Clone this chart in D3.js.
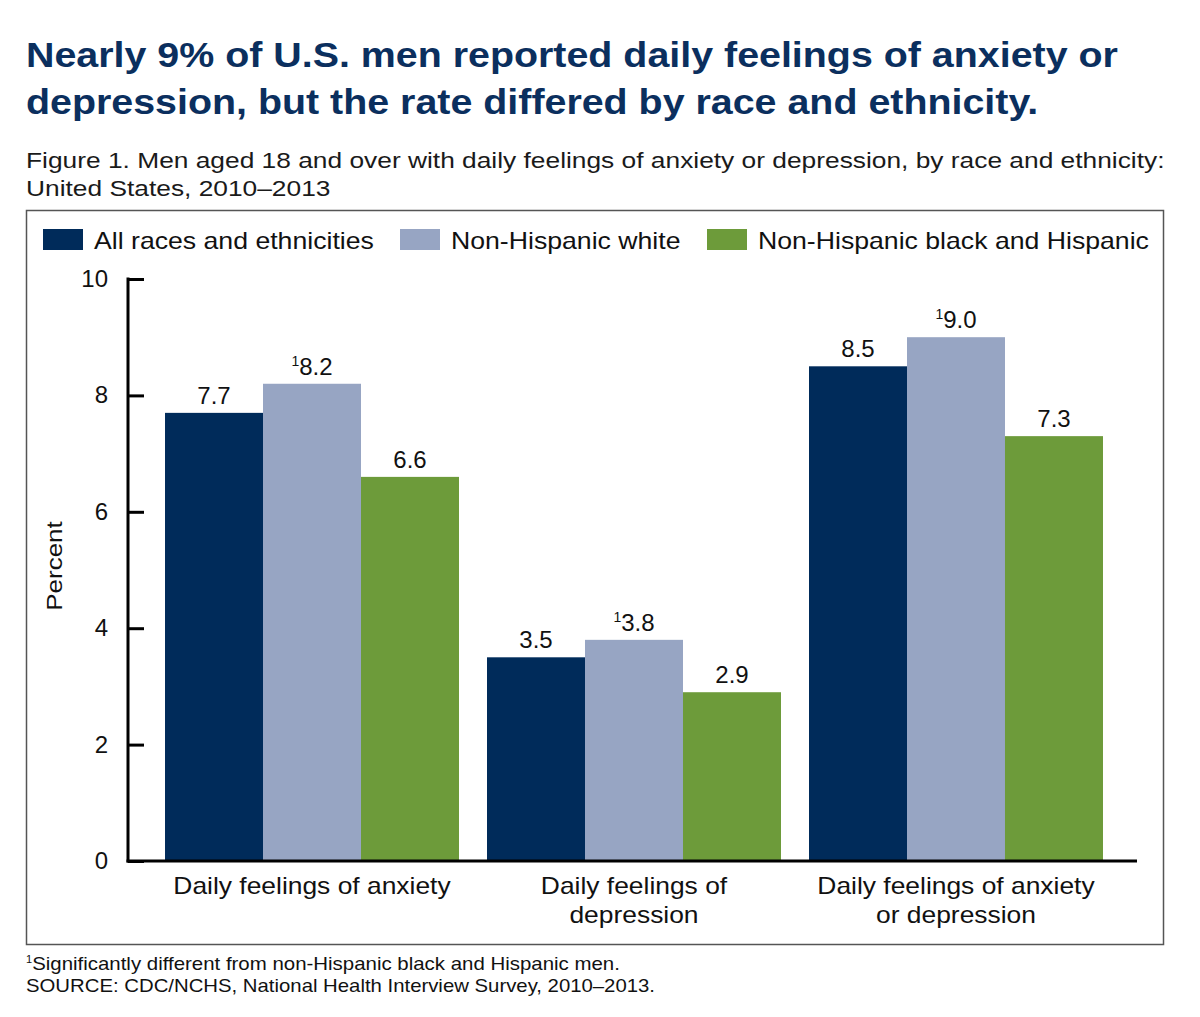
<!DOCTYPE html>
<html>
<head>
<meta charset="utf-8">
<script src="https://cdn.jsdelivr.net/npm/d3@7"></script>
<style>
  html, body { margin: 0; padding: 0; background: #fff; }
  svg { display: block; font-family: "Liberation Sans", Arial, Helvetica, sans-serif; }
</style>
</head>
<body>
<svg id="chart" width="1200" height="1017"></svg>
<script>
const titleLines = ["Nearly 9% of U.S. men reported daily feelings of anxiety or", "depression, but the rate differed by race and ethnicity."];
const subtitleLines = ["Figure 1. Men aged 18 and over with daily feelings of anxiety or depression, by race and ethnicity:", "United States, 2010\u20132013"];
const categories = ["Daily feelings of anxiety", "Daily feelings of depression", "Daily feelings of anxiety or depression"];
const categoryLines = [["Daily feelings of anxiety"], ["Daily feelings of", "depression"], ["Daily feelings of anxiety", "or depression"]];
const seriesNames = ["All races and ethnicities", "Non-Hispanic white", "Non-Hispanic black and Hispanic"];
const allRaces = [7.7, 3.5, 8.5];
const nhWhite = [8.2, 3.8, 9.0];
const nhBlackHispanic = [6.6, 2.9, 7.3];
const significant = [false, true, false]; // per series: footnote marker
const yTicks = [0, 2, 4, 6, 8, 10];
const footnotes = ["Significantly different from non-Hispanic black and Hispanic men.", "SOURCE: CDC/NCHS, National Health Interview Survey, 2010\u20132013."];
const colors = ["#002b5a", "#97a5c3", "#6d9b3a"];

const seriesValues = [allRaces, nhWhite, nhBlackHispanic];
const svg = d3.select("#chart");

// stretch text horizontally to a factor of its natural width
function stretch(sel, f) {
  sel.each(function() {
    const w = this.getComputedTextLength();
    d3.select(this).attr("textLength", w * f).attr("lengthAdjust", "spacingAndGlyphs");
  });
}

// Title
const tt = svg.append("g").selectAll("text").data(titleLines).join("text")
  .attr("x", 26).attr("y", (d, i) => 67 + i * 47)
  .attr("font-size", 35).attr("font-weight", "bold").attr("fill", "#0b2f5e")
  .text(d => d);
stretch(tt, 1.125);

// Subtitle
const st = svg.append("g").selectAll("text").data(subtitleLines).join("text")
  .attr("x", 26).attr("y", (d, i) => 168 + i * 28)
  .attr("font-size", 22.5).attr("fill", "#1a1a1a")
  .text(d => d);
stretch(st, 1.17);

// Box
svg.append("rect").attr("x", 26.5).attr("y", 210.5).attr("width", 1137).attr("height", 734)
  .attr("fill", "none").attr("stroke", "#555").attr("stroke-width", 1.5);

// Legend
const legendX = [43, 400, 707];
const lg = svg.append("g").selectAll("g").data(seriesNames).join("g")
  .attr("transform", (d, i) => `translate(${legendX[i]},229)`);
lg.append("rect").attr("width", 40).attr("height", 21).attr("fill", (d, i) => colors[i]);
const lt = lg.append("text").attr("x", 51).attr("y", 20).attr("font-size", 24).attr("fill", "#111").text(d => d);
stretch(lt, 1.11);

// Scales
const y = d3.scaleLinear().domain([0, 10]).range([861, 279]);
const x0 = d3.scaleBand().domain(categories).range([137, 1131]).paddingInner(0.087).paddingOuter(0.087);
const x1 = d3.scaleBand().domain(d3.range(3)).range([0, x0.bandwidth()]);

// Bars
const groups = svg.append("g").selectAll("g").data(categories).join("g")
  .attr("transform", d => `translate(${x0(d)},0)`);
groups.selectAll("rect").data((d, ci) => seriesValues.map((s, si) => ({si, v: s[ci]}))).join("rect")
  .attr("x", d => x1(d.si)).attr("width", x1.bandwidth())
  .attr("y", d => y(d.v)).attr("height", d => y(0) - y(d.v))
  .attr("fill", d => colors[d.si]);

// Value labels
const vl = groups.selectAll("text.val").data((d, ci) => seriesValues.map((s, si) => ({si, v: s[ci]}))).join("text")
  .attr("class", "val")
  .attr("x", d => x1(d.si) + x1.bandwidth() / 2)
  .attr("y", d => y(d.v) - 9)
  .attr("text-anchor", "middle").attr("font-size", 24).attr("fill", "#111");
vl.each(function(d) {
  const t = d3.select(this);
  if (significant[d.si]) {
    t.append("tspan").attr("font-size", 14).attr("dy", -9).text("1");
    t.append("tspan").attr("dy", 9).text(d.v.toFixed(1));
  } else {
    t.text(d.v.toFixed(1));
  }
});

// Y axis
const yAxis = d3.axisRight(y).tickValues(yTicks).tickSize(16).tickFormat("");
const ya = svg.append("g").attr("transform", "translate(128,0)").call(yAxis);
ya.select(".domain").remove();
ya.selectAll(".tick line").attr("stroke", "#000").attr("stroke-width", 3);
svg.append("line").attr("x1", 128).attr("x2", 128).attr("y1", y(10) - 1.5).attr("y2", y(0) + 1.5)
  .attr("stroke", "#000").attr("stroke-width", 3);
svg.append("g").selectAll("text").data(yTicks).join("text")
  .attr("x", 108).attr("y", d => y(d) + 8).attr("text-anchor", "end")
  .attr("font-size", 24).attr("fill", "#111").text(d => d);

// X axis baseline
svg.append("line").attr("x1", 126.5).attr("x2", 1137).attr("y1", y(0)).attr("y2", y(0))
  .attr("stroke", "#000").attr("stroke-width", 3);

// Category labels
svg.append("g").selectAll("text").data(categories).join("text")
  .attr("x", d => x0(d) + x0.bandwidth() / 2).attr("y", 894)
  .attr("text-anchor", "middle").attr("font-size", 24).attr("fill", "#111")
  .each(function(d, i) {
    d3.select(this).selectAll("tspan").data(categoryLines[i]).join("tspan")
      .attr("x", x0(d) + x0.bandwidth() / 2).attr("dy", (l, j) => j === 0 ? 0 : 29).text(l => l);
  });
svg.selectAll("text tspan").filter(function() { return this.parentNode.getAttribute("y") === "894"; })
  .each(function() {
    const w = this.getComputedTextLength();
    d3.select(this).attr("textLength", w * 1.1).attr("lengthAdjust", "spacingAndGlyphs");
  });

// Y axis title
const pt = svg.append("text").attr("transform", "translate(62,566) rotate(-90)")
  .attr("text-anchor", "middle").attr("font-size", 22).attr("fill", "#111").text("Percent");
stretch(pt, 1.18);

// Footnotes
const fn = svg.append("text").attr("x", 26).attr("y", 970).attr("font-size", 19).attr("fill", "#111");
fn.append("tspan").attr("font-size", 11).attr("dy", -7).text("1");
const fn2 = fn.append("tspan").attr("dy", 7).text(footnotes[0]);
stretch(fn2, 1.075);
const src = svg.append("text").attr("x", 26).attr("y", 992).attr("font-size", 19).attr("fill", "#111").text(footnotes[1]);
stretch(src, 1.07);
</script>
</body>
</html>
